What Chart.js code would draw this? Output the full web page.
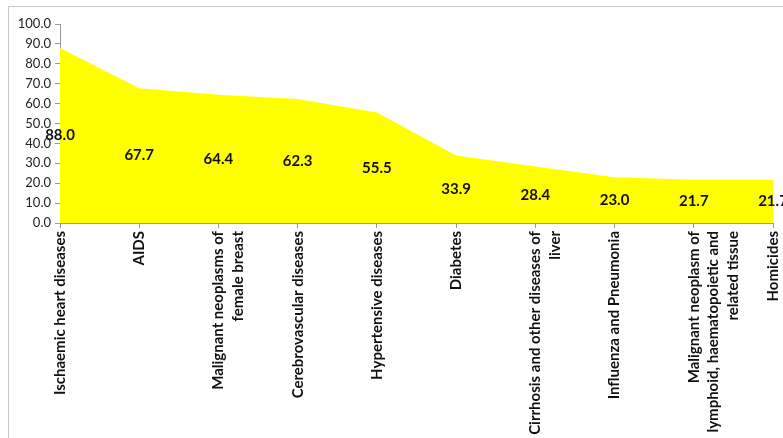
<!DOCTYPE html>
<html>
<head>
<meta charset="utf-8">
<script src="https://cdn.jsdelivr.net/npm/chart.js@4"></script>
<style>
  html, body { margin: 0; padding: 0; background: #fff; overflow: hidden; }
  #wrap { position: relative; width: 783px; height: 438px; }
  #frame { position: absolute; left: 8px; top: 6px; width: 800px; height: 500px; border: 1px solid #c8c8c8; }
  canvas { position: absolute; left: 0; top: 0; }
</style>
</head>
<body>
<div id="wrap">
  <div id="frame"></div>
  <canvas id="chart" width="783" height="438"></canvas>
</div>
<script>
// Causes of death and their values
const causes = [
    'Ischaemic heart diseases',
    'AIDS',
    ['Malignant neoplasms of', 'female breast'],
    'Cerebrovascular diseases',
    'Hypertensive diseases',
    'Diabetes',
    ['Cirrhosis and other diseases of', 'liver'],
    'Influenza and Pneumonia',
    ['Malignant neoplasm of', 'lymphoid, haematopoietic and', 'related tissue'],
    'Homicides'
];
const rates = [88.0, 67.7, 64.4, 62.3, 55.5, 33.9, 28.4, 23.0, 21.7, 21.7];
const yMin = 0, yMax = 100, yStep = 10;

const fontFamily = 'Lato, "Open Sans", sans-serif';

// value labels sit halfway up the filled area
const midLabels = {
    id: 'midLabels',
    afterDatasetsDraw(chart) {
        const { ctx } = chart;
        const meta = chart.getDatasetMeta(0);
        const yScale = chart.scales.y;
        ctx.save();
        ctx.font = 'bold 15px ' + fontFamily;
        ctx.fillStyle = '#111';
        ctx.textAlign = 'center';
        ctx.textBaseline = 'middle';
        meta.data.forEach((pt, i) => {
            const v = rates[i];
            ctx.fillText(v.toFixed(1), pt.x, yScale.getPixelForValue(v / 2));
        });
        ctx.restore();
    }
};

const ctx = document.getElementById('chart').getContext('2d');
const chart = new Chart(ctx, {
    type: 'line',
    data: {
        labels: causes,
        datasets: [{
            data: rates,
            fill: 'origin',
            backgroundColor: '#ffff00',
            borderColor: '#ffff00',
            borderWidth: 0,
            pointRadius: 0,
            tension: 0
        }]
    },
    options: {
        responsive: false,
        animation: false,
        layout: { padding: { left: 0, top: 24, right: 0, bottom: 0 } },
        plugins: {
            legend: { display: false },
            tooltip: { enabled: false }
        },
        scales: {
            x: {
                offset: false,
                afterFit(scale) {
                    scale.height = 215;
                    scale.paddingRight = 10;
                },
                grid: { drawOnChartArea: false, drawTicks: true, tickLength: 5, color: '#999' },
                border: { display: true, color: '#999' },
                ticks: {
                    autoSkip: false,
                    minRotation: 90,
                    maxRotation: 90,
                    padding: 3,
                    color: '#111',
                    font: { family: fontFamily, size: 15, weight: 'bold', lineHeight: 1.3 }
                }
            },
            y: {
                min: yMin,
                max: yMax,
                afterFit(scale) { scale.width = 60; },
                grid: { drawOnChartArea: false, drawTicks: true, tickLength: 5, color: '#999' },
                border: { display: true, color: '#999' },
                ticks: {
                    stepSize: yStep,
                    padding: 4,
                    color: '#222',
                    font: { family: fontFamily, size: 13 },
                    callback: v => v.toFixed(1)
                }
            }
        }
    },
    plugins: [midLabels]
});
</script>
</body>
</html>
